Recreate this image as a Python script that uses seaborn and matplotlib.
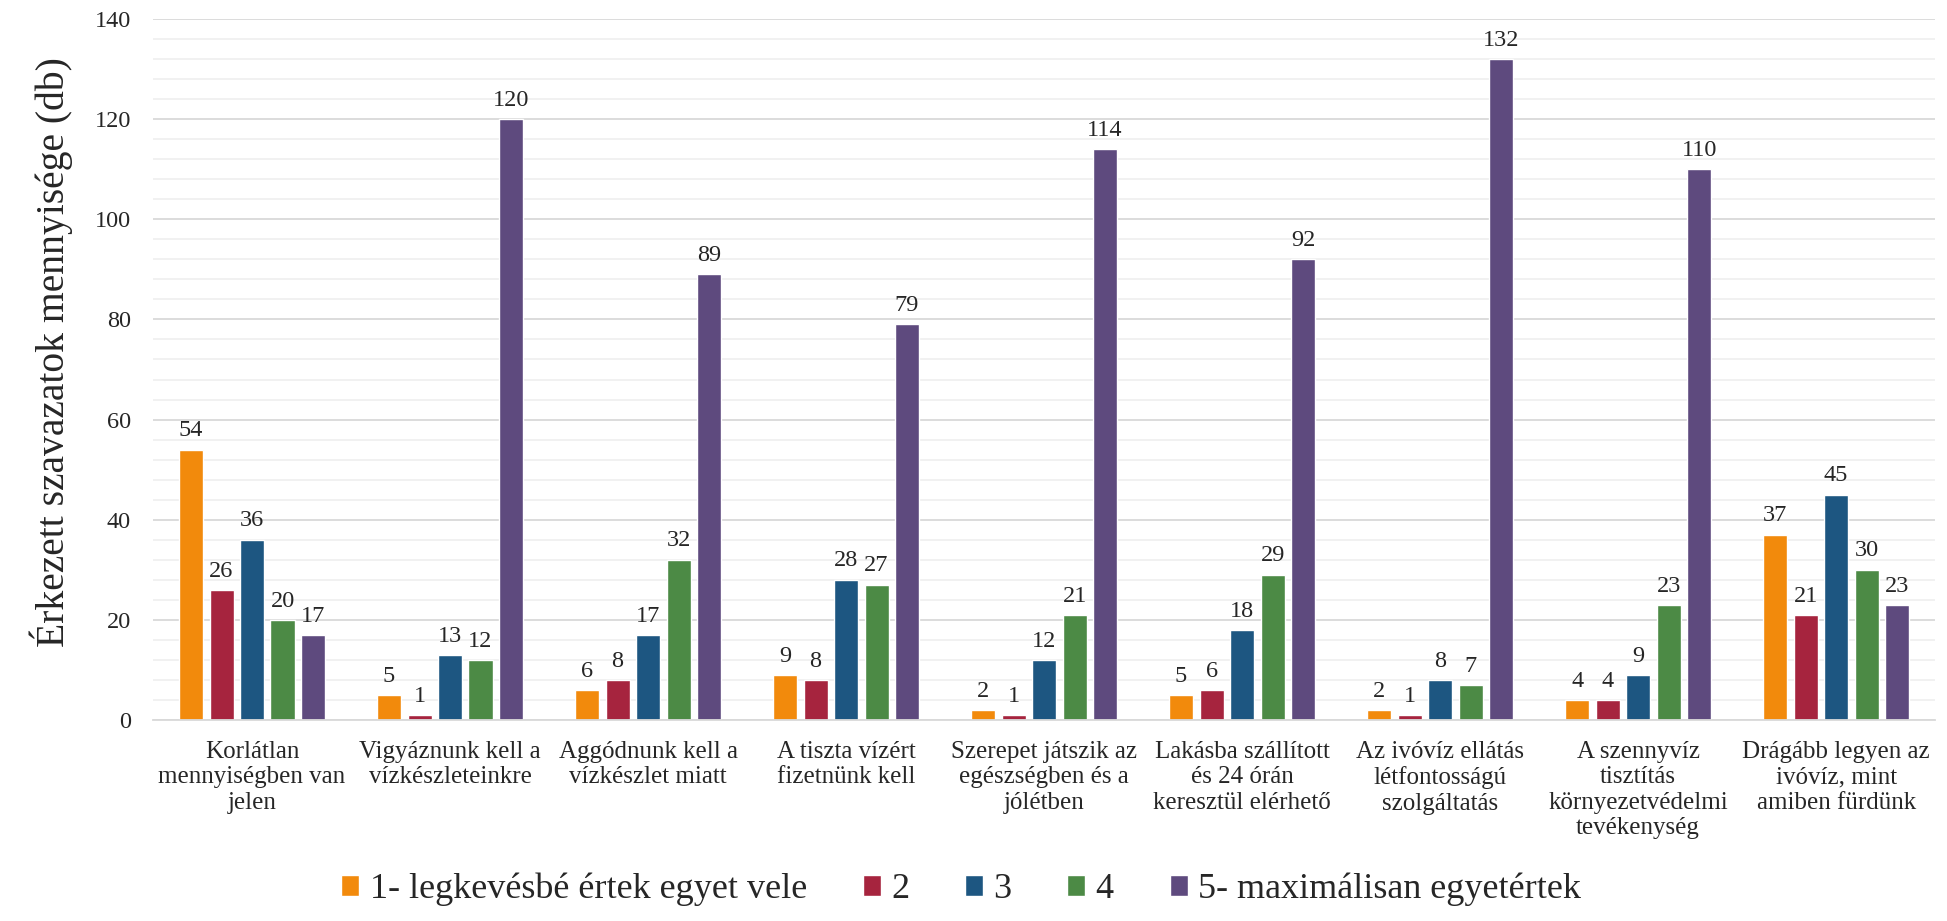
import matplotlib
matplotlib.use("Agg")
import matplotlib.pyplot as plt
from matplotlib.ticker import MultipleLocator
import seaborn as sns
import pandas as pd

# Statements (category axis)
categories = [
    "Korlátlan\nmennyiségben van\njelen",
    "Vigyáznunk kell a\nvízkészleteinkre",
    "Aggódnunk kell a\nvízkészlet miatt",
    "A tiszta vízért\nfizetnünk kell",
    "Szerepet játszik az\negészségben és a\njólétben",
    "Lakásba szállított\nés 24 órán\nkeresztül elérhető",
    "Az ivóvíz ellátás\nlétfontosságú\nszolgáltatás",
    "A szennyvíz\ntisztítás\nkörnyezetvédelmi\ntevékenység",
    "Drágább legyen az\nivóvíz, mint\namiben fürdünk",
]

# Rating levels (legend)
levels = [
    "1- legkevésbé értek egyet vele",
    "2",
    "3",
    "4",
    "5- maximálisan egyetértek",
]

# Vote counts per rating level, one value per statement
score_1 = [54, 5, 6, 9, 2, 5, 2, 4, 37]
score_2 = [26, 1, 8, 8, 1, 6, 1, 4, 21]
score_3 = [36, 13, 17, 28, 12, 18, 8, 9, 45]
score_4 = [20, 12, 32, 27, 21, 29, 7, 23, 30]
score_5 = [17, 120, 89, 79, 114, 92, 132, 110, 23]

colors = ["#F28A0C", "#A6243E", "#1D5681", "#4C8A45", "#5E4A7E"]

rows = []
for lvl, vals in zip(levels, [score_1, score_2, score_3, score_4, score_5]):
    for cat, v in zip(categories, vals):
        rows.append({"statement": cat, "level": lvl, "votes": v})
df = pd.DataFrame(rows)

SERIF = "Liberation Serif"
TXT = "#262626"

sns.set_theme(style="white")
plt.rcParams["font.family"] = [SERIF, "DejaVu Serif"]

fig = plt.figure(figsize=(19.47, 9.21), dpi=100)
ax = fig.add_axes([0.0786, 0.2182, 0.9153, 0.7612])

sns.barplot(
    data=df, x="statement", y="votes", hue="level",
    order=categories, hue_order=levels, palette=colors,
    saturation=1, width=0.77, gap=0.21, ax=ax, legend=True,
)

for cont in ax.containers:
    ax.bar_label(cont, padding=6, fontsize=17.5, color=TXT)

ax.set_ylim(0, 140)
ax.yaxis.set_major_locator(MultipleLocator(20))
ax.yaxis.set_minor_locator(MultipleLocator(4))
ax.grid(axis="y", which="major", color="#D9D9D9", linewidth=1.3)
ax.grid(axis="y", which="minor", color="#EEEEEE", linewidth=1.1)
ax.set_axisbelow(True)

for side in ["left", "right", "top"]:
    ax.spines[side].set_visible(False)
ax.spines["bottom"].set_color("#D9D9D9")
ax.spines["bottom"].set_linewidth(1.3)

ax.tick_params(axis="y", which="both", length=0, pad=16, labelsize=17.5, labelcolor=TXT)
ax.tick_params(axis="x", length=0, pad=15, labelsize=18, labelcolor=TXT)

ax.set_xlabel("")
ax.set_ylabel("Érkezett szavazatok mennyisége (db)", fontsize=28.5, color=TXT)
ax.yaxis.set_label_coords(-0.045, 0.525)

handles, labels = ax.get_legend_handles_labels()
ax.get_legend().remove()
fig.legend(
    handles, labels, loc="center", bbox_to_anchor=(0.4936, 0.034),
    ncol=5, frameon=False, handlelength=0.5, handleheight=0.5,
    handletextpad=0.28, columnspacing=1.55, labelcolor=TXT,
    prop={"size": 26},
)

fig.savefig("out.png", dpi=100, facecolor="white")
